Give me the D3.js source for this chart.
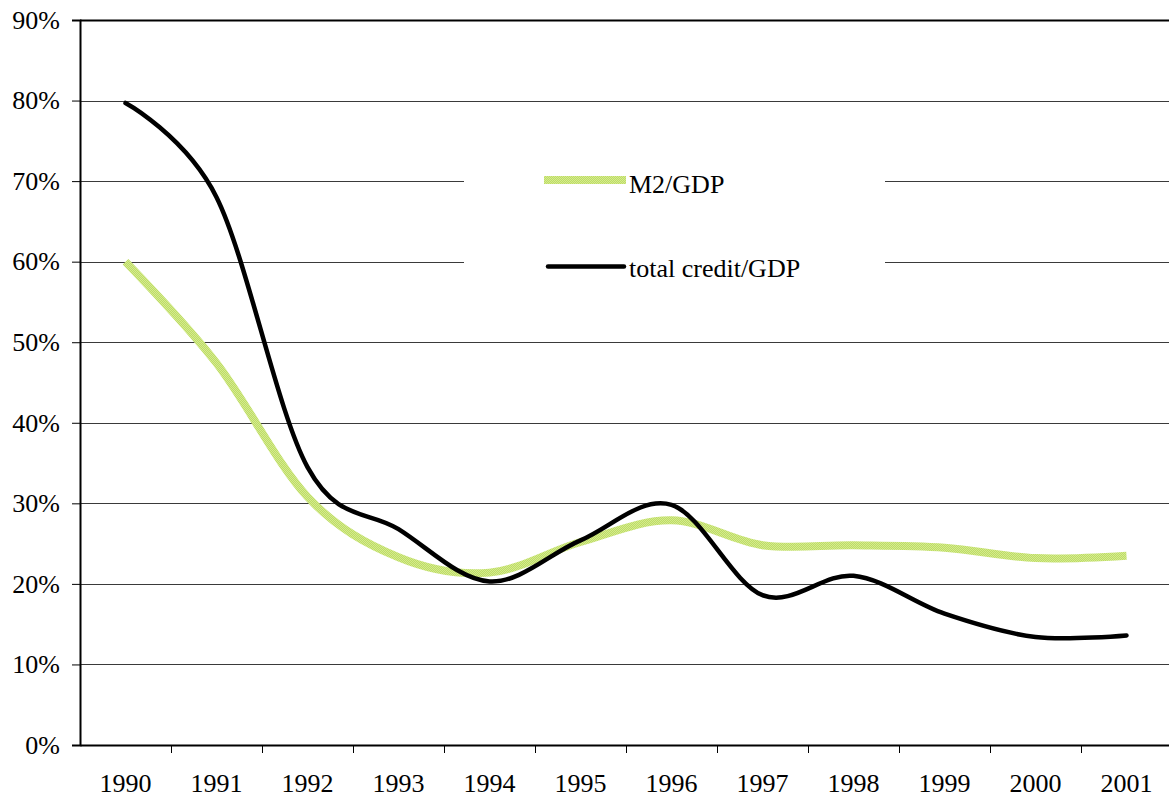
<!DOCTYPE html>
<html>
<head>
<meta charset="utf-8">
<script src="https://cdn.jsdelivr.net/npm/d3@7"></script>
<style>
  html, body { margin: 0; padding: 0; background: #fff; }
  svg { display: block; }
</style>
</head>
<body>
<svg id="chart" width="1169" height="801"></svg>
<script>
// Years on the category axis
const years = ["1990","1991","1992","1993","1994","1995","1996","1997","1998","1999","2000","2001"];
// M2 as a share of GDP (%)
const m2Values = [60.0, 47.4, 30.8, 23.3, 21.4, 25.2, 27.9, 24.8, 24.8, 24.5, 23.2, 23.5];
// Total credit as a share of GDP (%)
const creditValues = [79.7, 68.0, 34.5, 26.8, 20.3, 25.4, 29.8, 18.6, 21.0, 16.3, 13.4, 13.6];
// Value-axis ticks (%)
const yTicks = [0, 10, 20, 30, 40, 50, 60, 70, 80, 90];
const seriesNames = ["M2/GDP", "total credit/GDP"];

const serif = "'Liberation Serif', 'Times New Roman', serif";
const fontPx = "26px";
const svg = d3.select("#chart");
const plotLeft = 80, plotRight = 1172, plotTop = 20, plotBottom = 745;

const x = d3.scaleBand().domain(years).range([plotLeft, plotRight]).padding(0);
const y = d3.scaleLinear().domain([0, 90]).range([plotBottom, plotTop]);
const cx = d => x(d) + x.bandwidth() / 2;

// Textured fill for the M2 line
const defs = svg.append("defs");
const pat = defs.append("pattern")
  .attr("id", "m2tex").attr("patternUnits", "userSpaceOnUse")
  .attr("width", 2).attr("height", 2);
pat.append("rect").attr("width", 2).attr("height", 2).attr("fill", "#bedc66");
pat.append("rect").attr("width", 1).attr("height", 1).attr("fill", "#d4eb8e");
pat.append("rect").attr("x", 1).attr("y", 1).attr("width", 1).attr("height", 1).attr("fill", "#d4eb8e");

// Horizontal gridlines
svg.append("g").selectAll("line").data(yTicks.filter(t => t > 0)).join("line")
  .attr("x1", plotLeft).attr("x2", 1169)
  .attr("y1", d => Math.round(y(d)) + 0.5).attr("y2", d => Math.round(y(d)) + 0.5)
  .attr("stroke", d => d === 90 ? "#000" : "#3a3a3a")
  .attr("stroke-width", d => d === 90 ? 2 : 1);

// Value axis
const yAxis = d3.axisLeft(y).tickValues(yTicks).tickFormat(d => d + "%").tickSize(8).tickPadding(12);
const gy = svg.append("g").attr("transform", `translate(${plotLeft},0)`).call(yAxis);
gy.attr("font-family", null).attr("font-size", null);
gy.select(".domain").attr("stroke", "#000").attr("stroke-width", 2);
gy.selectAll(".tick line").attr("stroke", "#000");
gy.selectAll("text").style("font-family", serif).style("font-size", fontPx).attr("fill", "#000");

// Category axis
const xAxis = d3.axisBottom(x).tickSize(0).tickPadding(29);
const gx = svg.append("g").attr("transform", `translate(0,${plotBottom})`).call(xAxis);
gx.attr("font-family", null).attr("font-size", null);
gx.select(".domain").attr("stroke", "#000").attr("stroke-width", 2);
gx.selectAll("text").style("font-family", serif).style("font-size", fontPx).attr("fill", "#000");
// Tick marks at category boundaries
svg.append("g").selectAll("line").data(years.slice(1)).join("line")
  .attr("x1", d => Math.round(x(d)) + 0.5).attr("x2", d => Math.round(x(d)) + 0.5)
  .attr("y1", plotBottom).attr("y2", plotBottom + 8)
  .attr("stroke", "#000").attr("stroke-width", 1);

// Smoothed series lines
const line = d3.line().x((d, i) => cx(years[i])).y(d => y(d)).curve(d3.curveCatmullRom.alpha(0));

svg.append("path").datum(m2Values)
  .attr("d", line).attr("fill", "none")
  .attr("stroke", "url(#m2tex)").attr("stroke-width", 8)
  .attr("stroke-linejoin", "round");

svg.append("path").datum(creditValues)
  .attr("d", line).attr("fill", "none")
  .attr("stroke", "#000").attr("stroke-width", 4.5)
  .attr("stroke-linecap", "round").attr("stroke-linejoin", "round");

// Legend
const lg = svg.append("g");
lg.append("rect").attr("x", 464).attr("y", 150).attr("width", 421).attr("height", 140).attr("fill", "#fff");
lg.append("rect").attr("x", 544).attr("y", 176).attr("width", 82).attr("height", 8).attr("fill", "url(#m2tex)");
lg.append("line").attr("x1", 548).attr("x2", 624).attr("y1", 266.5).attr("y2", 266.5)
  .attr("stroke", "#000").attr("stroke-width", 4.5).attr("stroke-linecap", "round");
lg.append("text").attr("x", 629).attr("y", 193).style("font-family", serif).style("font-size", fontPx).text(seriesNames[0]);
lg.append("text").attr("x", 629).attr("y", 277).style("font-family", serif).style("font-size", fontPx).text(seriesNames[1]);
</script>
</body>
</html>
